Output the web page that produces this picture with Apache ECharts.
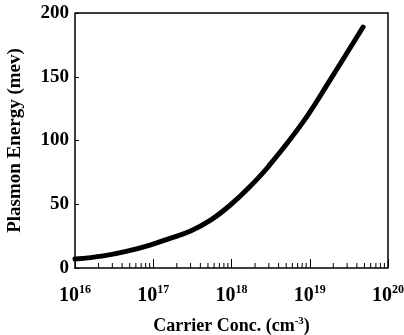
<!DOCTYPE html>
<html>
<head>
<meta charset="utf-8">
<script src="https://cdn.jsdelivr.net/npm/echarts@6/dist/echarts.min.js"></script>
<style>
  html, body { margin: 0; padding: 0; background: #fff; }
  #chart { width: 404px; height: 335px; }
</style>
</head>
<body>
<div id="chart"></div>
<script>
// Carrier concentration (cm^-3) and plasmon energy (meV)
const carrierConc = [1.0e16, 2.3e16, 4.5e16, 9.1e16, 1.6e17, 3.0e17, 5.4e17, 9.5e17, 1.7e18, 3.0e18, 8.1e18, 1.8e19, 4.8e19];
const plasmonEnergy = [7, 9.5, 13, 18, 23, 29, 37.5, 49, 63.5, 80, 114, 147, 189];

// Axis ticks
const yTicks = [0, 50, 100, 150, 200];
const xDecades = [16, 17, 18, 19, 20];
const minorMultipliers = [2, 3, 4, 5, 6, 7, 8, 9];

const minorTickValues = [];
for (let d = xDecades[0]; d < xDecades[xDecades.length - 1]; d++) {
  minorMultipliers.forEach(m => minorTickValues.push([m * Math.pow(10, d), 0]));
}

const FONT = 'Liberation Serif';
const chart = echarts.init(document.getElementById('chart'));

chart.setOption({
  animation: false,
  backgroundColor: '#fff',
  grid: { left: 75, top: 13, right: 16, bottom: 67, containLabel: false, outerBoundsMode: 'none' },
  xAxis: {
    type: 'log',
    logBase: 10,
    min: Math.pow(10, xDecades[0]),
    max: Math.pow(10, xDecades[xDecades.length - 1]),
    interval: 1,
    name: '{t|Carrier Conc. (cm}{s|-3}{t|)}',
    nameLocation: 'middle',
    nameGap: 48,
    nameTextStyle: {
      rich: {
        t: { fontFamily: FONT, fontWeight: 'bold', fontSize: 18, color: '#000' },
        s: { fontFamily: FONT, fontWeight: 'bold', fontSize: 11, color: '#000', verticalAlign: 'top', padding: [0, 0, 9, 0] }
      }
    },
    axisLine: { show: true, onZero: false, lineStyle: { color: '#000', width: 1.5 } },
    axisTick: { show: true, inside: true, length: 9, lineStyle: { color: '#000', width: 1 } },
    splitLine: { show: false },
    axisLabel: {
      margin: 16,
      formatter: function (v) {
        const e = Math.round(Math.log10(v));
        return '{b|10}{s|' + e + '}';
      },
      rich: {
        b: { fontFamily: FONT, fontWeight: 'bold', fontSize: 20, color: '#000' },
        s: { fontFamily: FONT, fontWeight: 'bold', fontSize: 12, color: '#000', verticalAlign: 'top', padding: [0, 0, 12, 0] }
      }
    }
  },
  yAxis: {
    type: 'value',
    min: yTicks[0],
    max: yTicks[yTicks.length - 1],
    interval: 50,
    name: 'Plasmon Energy (mev)',
    nameLocation: 'middle',
    nameGap: 50,
    nameTextStyle: { fontFamily: FONT, fontWeight: 'bold', fontSize: 19, color: '#000' },
    axisLine: { show: true, lineStyle: { color: '#000', width: 1.5 } },
    axisTick: { show: true, inside: true, length: 4, lineStyle: { color: '#000', width: 1 } },
    splitLine: { show: false },
    axisLabel: { margin: 6, fontFamily: FONT, fontWeight: 'bold', fontSize: 19, color: '#000' }
  },
  series: [
    {
      type: 'line',
      data: carrierConc.map((c, i) => [c, plasmonEnergy[i]]),
      smooth: 0.4,
      symbol: 'none',
      lineStyle: { color: '#000', width: 5, cap: 'round' }
    },
    {
      // minor log ticks along the bottom axis
      type: 'custom',
      data: minorTickValues,
      silent: true,
      renderItem: function (params, api) {
        const p = api.coord([api.value(0), 0]);
        return {
          type: 'line',
          shape: { x1: p[0], y1: p[1], x2: p[0], y2: p[1] - 5 },
          style: { stroke: '#000', lineWidth: 1 }
        };
      }
    },
    {
      // frame on the top and right sides
      type: 'custom',
      data: [[Math.pow(10, xDecades[0]), yTicks[yTicks.length - 1]]],
      silent: true,
      renderItem: function (params, api) {
        const tl = api.coord([Math.pow(10, xDecades[0]), yTicks[yTicks.length - 1]]);
        const br = api.coord([Math.pow(10, xDecades[xDecades.length - 1]), yTicks[0]]);
        return {
          type: 'polyline',
          shape: { points: [[tl[0], tl[1]], [br[0], tl[1]], [br[0], br[1]]] },
          style: { stroke: '#000', lineWidth: 1.5, fill: null }
        };
      }
    }
  ]
});
</script>
</body>
</html>
